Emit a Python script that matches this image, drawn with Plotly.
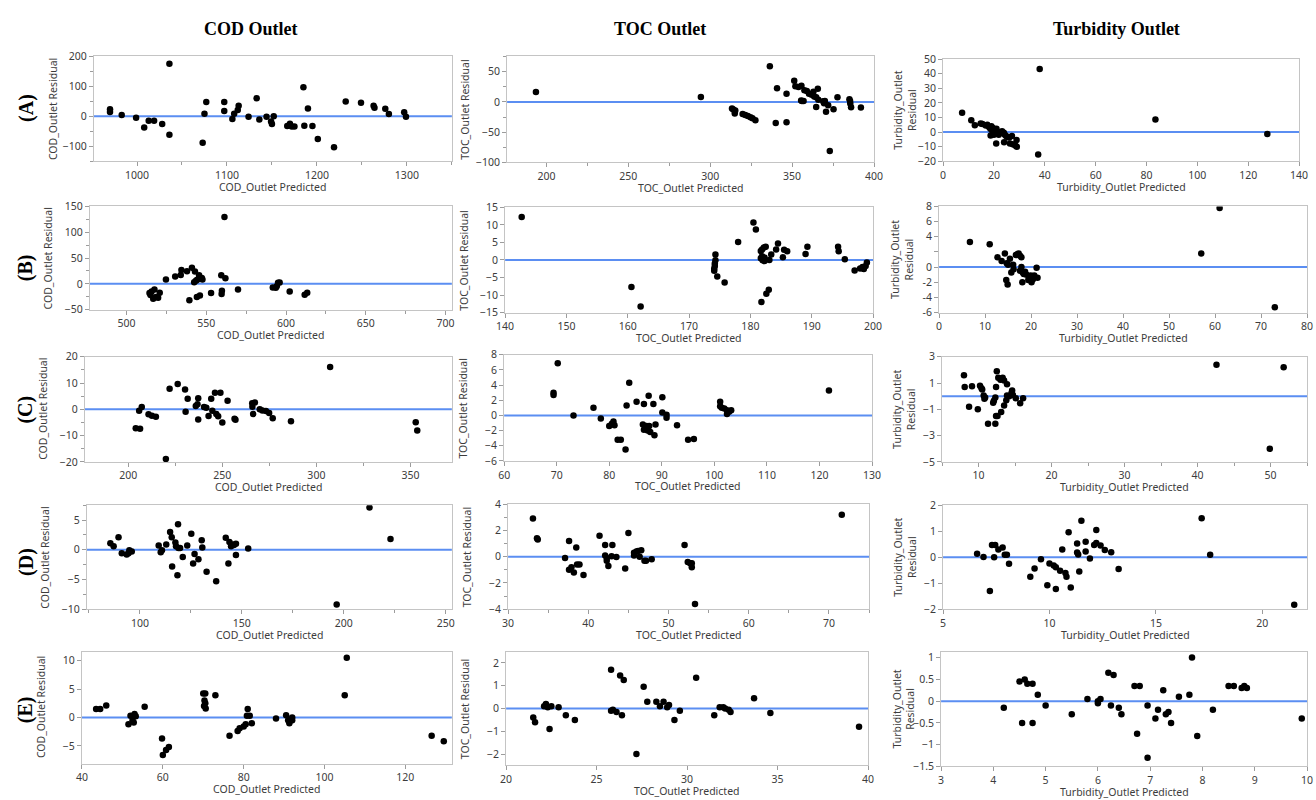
import plotly.graph_objects as go

W, H = 1316, 800

# ---- Run A ----
cod_a_pred = [970, 970, 983, 999, 1008, 1013, 1019, 1028, 1036, 1036, 1073, 1075, 1077, 1097, 1097,
              1106, 1108, 1112, 1113, 1124, 1133, 1136, 1144, 1149, 1150, 1152, 1167, 1170, 1172, 1175,
              1185, 1186, 1190, 1195, 1201, 1219, 1232, 1249, 1263, 1264, 1276, 1280, 1297, 1299]
cod_a_resid = [23, 14, 4, -5, -38, -15, -15, -26, 175, -62, -88, 8, 47, 47, 17, -9, 8, 21, 35, -2,
               60, -11, -2, -18, -26, 0, -33, -25, -34, -34, 96, -32, 26, -33, -76, -103, 49, 45, 35, 28,
               25, 7, 13, -2]
toc_a_pred = [193.6, 294.3, 313.3, 314.1, 315.0, 315.3, 319.8, 321.4, 323.0, 324.6, 325.8, 327.6, 336.4,
              340.0, 340.8, 346.6, 346.6, 351.3, 352.0, 353.9, 355.5, 355.7, 356.0, 357.0, 357.5, 359.0,
              360.3, 361.9, 363.0, 363.5, 364.7, 365.7, 364.7, 366.0, 369.0, 369.5, 370.0, 370.7, 372.0,
              373.0, 375.3, 377.7, 385.0, 385.4, 385.5, 386.0, 392.0]
toc_a_resid = [16.3, 8.2, -10.9, -12.5, -19, -14, -20, -21.7, -23.4, -25.5, -27, -30.4, 59.2, -34.8, 22.8,
               -33.7, 13.6, 35.3, 26, 25, 2.2, 27, 1.6, 1.6, 19.6, 18, 13.6, 12, 16.8, 9.2, 8, 21.7, -8.2,
               3.8, 1, -2, 1.6, -16.3, -5.4, -81.5, -12, 7.6, 4.3, 1.6, -2.7, -8.7, -9.2]
turb_a_pred = [7.5, 11.1, 12.5, 14.8, 15.5, 16.8, 17.4, 18.1, 18.6, 19.0, 19.4, 19.6, 18.7, 20.0, 20.6,
               21.0, 21.4, 21.9, 20.9, 22.6, 23.2, 23.9, 24.3, 24.8, 24.0, 25.3, 26.0, 26.3, 27.1, 27.4,
               28.4, 28.9, 29.0, 37.4, 38.0, 83.5, 127.5]
turb_a_resid = [13.3, 8.1, 4.7, 5.9, 5.6, 4.5, 5.0, 3.4, 2.3, 4.0, 0.9, 2.7, -2.3, -1.8, -0.5, 2.3, 0.0,
                -1.8, -7.9, -0.5, 0.5, -0.5, -1.8, -2.7, -7.0, -3.4, -3.8, -7.9, -2.7, -8.3, -9.2, -5.4,
                -10.1, -15.3, 43.2, 8.6, -1.4]

# ---- Run B ----
cod_b_pred = [514.4, 515.0, 515.7, 516.7, 517.5, 518.5, 519.8, 520.8, 524.7, 530.5, 534.0, 534.4, 537.9,
              539.4, 541.0, 542.4, 542.9, 543.5, 544.3, 544.1, 545.5, 545.7, 546.0, 546.8, 547.6, 547.2,
              553.0, 559.8, 559.6, 559.4, 561.4, 562.0, 569.9, 591.7, 593.6, 594.2, 595.0, 596.0, 602.3,
              611.7, 613.3]
cod_b_resid = [-18, -21.8, -14.7, -28.8, -10.9, -25.6, -26.9, -17.3, 8.3, 14.1, 17.3, 26.9, 24.4, -32,
               31.4, 3.2, 23.7, 5.8, 7.7, -25.6, 16.7, 12.2, -22.4, 9.6, 8.3, 11.5, -18, -13.5, -19.9,
               16.7, 129.5, 10.9, -10.9, -7, -7.7, -4.5, 1.9, 2.6, -14.7, -21.2, -17.3]
toc_b_pred = [142.7, 160.6, 162.1, 174.3, 174.3, 174.2, 174.2, 174.1, 174.1, 174.6, 175.8, 178.0, 180.5,
              180.9, 181.7, 181.8, 181.7, 181.9, 181.9, 182.0, 182.2, 182.3, 182.3, 182.5, 182.6, 183.0,
              183.1, 183.4, 184.2, 184.5, 185.3, 185.5, 186.0, 189.0, 189.3, 194.3, 194.4, 195.4, 197.0,
              197.9, 198.3, 198.5, 198.8, 199.0]
toc_b_resid = [12.3, -7.7, -13.3, 1.6, -0.1, -1.0, -1.7, -2.5, -3.1, -4.7, -6.4, 5.1, 10.7, 8.7, 2.6,
               -12.0, 0.5, 3.0, 1.1, -0.1, 3.6, 0.7, -0.3, 3.8, -9.6, -8.5, 0.0, 1.6, 3.0, 4.7, 0.8, 2.9,
               2.5, 1.7, 3.8, 3.8, 2.5, 0.2, -3.0, -2.4, -2.0, -2.6, -1.7, -0.7]
turb_b_pred = [6.7, 11.0, 12.7, 13.6, 14.3, 14.6, 14.9, 14.7, 15.0, 15.4, 15.7, 16.1, 16.2, 16.7, 17.0,
               17.3, 17.6, 17.9, 17.6, 17.9, 18.2, 18.1, 18.4, 18.7, 19.0, 19.4, 19.9, 20.1, 20.4, 20.7,
               21.2, 21.4, 57.0, 61.0, 73.0]
turb_b_resid = [3.3, 3.0, 1.3, 0.8, 1.8, -1.7, -2.3, 0.5, 0.3, 1.1, -0.7, 0.3, -0.3, 1.6, 1.7, 1.8, 1.5,
                1.3, -0.5, 0.0, -0.7, -2.0, -0.9, -0.6, -1.0, -1.7, -1.1, -2.0, -1.6, -1.1, -0.1, -1.4,
                1.8, 7.8, -5.3]

# ---- Run C ----
cod_c_pred = [204.0, 206.3, 205.8, 207.2, 210.8, 212.6, 214.7, 220.0, 222.0, 226.3, 230.2, 230.5, 231.6,
              235.9, 236.8, 237.2, 237.2, 240.3, 241.5, 242.7, 244.1, 244.7, 246.1, 246.8, 247.8, 249.0,
              250.0, 252.8, 256.5, 257.0, 265.9, 266.0, 266.4, 267.3, 269.9, 271.3, 273.2, 274.9, 276.8,
              286.5, 307.3, 352.8, 353.6]
cod_c_resid = [-7.2, -7.4, -0.5, 0.9, -1.9, -2.4, -2.8, -18.9, 7.8, 9.6, 7.5, -0.9, 4.0, 1.3, 1.9, 4.2,
               -3.9, 0.9, 0.6, -2.5, 4.0, -0.5, 6.3, -1.8, -2.6, 6.3, -5.0, 3.3, -3.6, -4.0, 2.3, 1.0,
               -1.8, 2.6, 0.0, -0.4, -0.6, -1.4, -3.4, -4.5, 16.1, -4.9, -8.1]
toc_c_pred = [69.4, 69.4, 70.2, 73.2, 77.0, 78.4, 80.0, 80.5, 80.8, 81.0, 81.6, 82.2, 83.1, 83.3, 83.8,
              85.2, 86.6, 86.4, 86.6, 87.1, 87.3, 87.5, 87.6, 87.8, 88.4, 88.6, 88.8, 90.1, 90.1, 90.9,
              90.9, 92.9, 95.0, 96.1, 101.1, 101.1, 101.4, 101.9, 102.4, 102.4, 102.8, 103.2, 121.8]
toc_c_resid = [3.0, 2.7, 6.9, 0.0, 1.0, -0.4, -1.4, -1.1, -0.8, -1.3, -3.2, -3.2, -4.5, 1.3, 4.3, 1.8,
               1.5, -1.2, -1.9, -1.4, -2.0, 2.6, -1.4, -2.2, 1.5, -2.6, -1.2, 2.4, 0.4, 0.1, -0.3, -1.3,
               -3.2, -3.1, 1.8, 1.2, 1.0, 0.9, 0.7, 0.2, 0.5, 0.7, 3.3]
turb_c_pred = [8.0, 8.1, 8.7, 9.1, 9.9, 10.2, 10.4, 10.5, 10.7, 10.8, 10.9, 11.3, 12.0, 12.1, 12.3, 12.4,
               12.3, 12.4, 12.5, 12.6, 12.7, 13.0, 13.1, 13.3, 13.5, 13.5, 13.8, 13.9, 13.9, 14.2, 14.5,
               14.6, 14.7, 15.1, 15.7, 16.1, 42.6, 49.9, 51.8]
turb_c_resid = [1.6, 0.7, -0.8, 0.75, -1.0, 0.8, 0.6, 0.5, 0.06, -0.2, -0.1, -2.1, -0.5, -0.35, -0.1,
                0.7, -2.1, -1.5, 1.9, -1.5, 1.4, 1.25, -1.2, 1.4, 1.2, -0.7, -0.3, 0.9, 0.05, 0.0, 0.23,
                0.43, 0.1, -0.15, -0.53, -0.15, 2.4, -4.0, 2.2]

# ---- Run D ----
cod_d_pred = [85.5, 87.1, 89.5, 91.1, 93.5, 94.4, 94.8, 96.0, 109.2, 110.2, 110.8, 112.9, 114.8, 115.6,
              115.8, 117.4, 117.7, 118.4, 118.7, 118.9, 119.7, 121.0, 123.2, 125.2, 126.1, 126.8, 128.7,
              130.3, 130.6, 132.7, 137.4, 142.1, 143.4, 143.9, 144.7, 145.3, 146.1, 147.1, 147.1, 153.1,
              196.5, 212.6, 222.9]
cod_d_resid = [1.1, 0.6, 2.1, -0.6, -0.8, -0.6, -0.1, -0.3, 0.7, -0.4, -0.1, 0.9, 3.0, 2.1, -2.8, 1.2,
               0.6, -4.3, 4.3, 0.3, 0.3, -1.2, 0.7, 2.7, -2.3, -0.7, -1.6, 1.6, 0.4, -3.7, -5.3, 2.0,
               -2.3, 1.3, 0.6, 0.9, 0.8, 1.0, -0.9, 0.2, -9.2, 7.1, 1.8]
toc_d_pred = [33.1, 33.6, 33.7, 37.1, 37.6, 37.6, 37.9, 38.2, 38.5, 38.6, 38.9, 39.4, 41.4, 42.1, 42.1,
              42.3, 42.3, 42.5, 42.9, 43.0, 43.5, 44.6, 45.0, 45.7, 45.7, 46.0, 46.2, 46.4, 46.6, 47.0,
              47.2, 47.9, 52.0, 52.4, 52.7, 52.9, 52.9, 53.3, 71.6]
toc_d_resid = [2.9, 1.4, 1.3, -0.1, 1.2, -1.0, -0.8, -1.2, 0.7, -0.6, -0.6, -1.4, 1.6, 0.9, 0.1, -0.1,
               -0.3, -0.7, 0.03, 0.9, -0.03, -0.9, 1.8, 0.1, 0.3, 0.4, 0.43, 0.0, 0.5, -0.3, -0.3, -0.2,
               0.9, -0.4, -0.5, -0.5, -0.8, -3.6, 3.2]
turb_d_pred = [6.6, 6.9, 7.2, 7.3, 7.4, 7.45, 7.6, 7.8, 7.9, 8.0, 8.1, 9.1, 9.3, 9.6, 9.9, 10.0, 10.2,
               10.3, 10.3, 10.5, 10.6, 10.75, 10.8, 10.9, 11.0, 11.3, 11.3, 11.35, 11.4, 11.5, 11.7, 11.7,
               11.9, 12.1, 12.2, 12.2, 12.4, 12.6, 12.9, 13.25, 17.15, 17.55, 21.5]
turb_d_resid = [0.13, 0.01, -1.3, 0.47, 0.0, 0.47, 0.3, 0.37, 0.09, 0.09, -0.25, -0.75, -0.43, -0.08,
                -1.08, -0.24, -0.32, -0.39, -1.22, -0.52, 0.3, -0.61, -0.75, 0.96, -1.16, 0.18, 0.53, 0.1,
                -0.55, 1.4, 0.59, 0.22, -0.05, 0.47, 1.04, 0.55, 0.45, 0.28, 0.19, -0.45, 1.5, 0.09, -1.83]

# ---- Run E ----
cod_e_pred = [43.5, 44.5, 46.0, 51.5, 52.0, 52.5, 53.0, 53.3, 52.8, 55.5, 59.8, 60.0, 60.8, 61.5, 70.0,
              70.5, 70.3, 70.5, 70.2, 70.6, 73.0, 76.5, 78.5, 79.0, 80.0, 80.5, 80.8, 81.0, 81.5, 82.0,
              88.0, 90.5, 91.0, 91.3, 92.0, 92.0, 105.5, 105.0, 126.5, 129.5]
cod_e_resid = [1.5, 1.5, 2.1, -1.2, 0.3, -0.5, 0.6, 0.2, -0.9, 1.9, -3.7, -6.6, -5.7, -5.2, 4.2, 4.2,
               3.0, 2.5, 2.0, 1.6, 3.9, -3.2, -2.4, -1.9, -1.6, -1.2, 0.3, 1.5, 0.3, -1.0, -0.2, 0.4,
               -0.5, -1.0, 0.0, -0.5, 10.5, 3.9, -3.2, -4.2]
toc_e_pred = [21.5, 21.6, 22.1, 22.2, 22.3, 22.4, 22.5, 22.9, 23.3, 23.8, 25.8, 25.8, 25.9, 26.1, 26.3,
              26.4, 26.5, 27.2, 27.6, 27.8, 28.3, 28.5, 28.7, 28.9, 29.0, 29.3, 29.6, 30.5, 31.5, 31.8,
              32.0, 32.1, 32.3, 32.4, 33.7, 34.6, 39.5]
toc_e_resid = [-0.4, -0.6, 0.1, 0.2, 0.05, -0.9, 0.1, 0.05, -0.3, -0.5, 1.7, -0.1, -0.05, -0.15, 1.45,
               -0.3, 1.25, -2.0, 0.95, 0.3, 0.3, 0.1, 0.3, 0.05, 0.15, -0.5, -0.1, 1.35, -0.3, 0.05, 0.05,
               0.0, -0.05, -0.15, 0.45, -0.2, -0.8]
turb_e_pred = [4.2, 4.5, 4.55, 4.6, 4.65, 4.75, 4.75, 4.85, 5.0, 5.5, 5.8, 6.0, 6.0, 6.05, 6.2, 6.25, 6.3,
               6.4, 6.45, 6.7, 6.75, 6.8, 6.95, 6.95, 7.1, 7.15, 7.25, 7.3, 7.35, 7.4, 7.55, 7.75, 7.8,
               7.9, 8.2, 8.5, 8.6, 8.75, 8.8, 8.85, 9.9]
turb_e_resid = [-0.15, 0.45, -0.5, 0.5, 0.4, -0.5, 0.4, 0.15, -0.1, -0.3, 0.05, 0.0, -0.05, 0.05, 0.65,
                -0.1, 0.6, -0.15, -0.3, 0.35, -0.75, 0.35, -0.1, -1.3, -0.4, -0.2, 0.25, -0.3, -0.25,
                -0.5, 0.1, 0.15, 1.0, -0.8, -0.2, 0.35, 0.35, 0.3, 0.35, 0.3, -0.4]

column_titles = ["COD Outlet", "TOC Outlet", "Turbidity Outlet"]
row_labels = ["(A)", "(B)", "(C)", "(D)", "(E)"]
x_titles = ["COD_Outlet Predicted", "TOC_Outlet Predicted", "Turbidity_Outlet Predicted"]
y_titles = ["COD_Outlet Residual", "TOC_Outlet Residual", "Turbidity_Outlet<br>Residual"]
turb_b_ticks = [-6, -4, -2, 0, 2, 4, 6, 8]
turb_b_ticktext = ["-6", "-4", "-2", "0", "", "4", "6", "8"]

# panel layout: (left, right, top, bottom) in pixels, axis ranges and tick spacing
panels = [
    dict(x=cod_a_pred, y=cod_a_resid, col=0, box=(86, 449, 50, 157), xr=[952, 1350], yr=[-150, 200],
         xd=100, xm=50, yd=100, ym=50),
    dict(x=toc_a_pred, y=toc_a_resid, col=1, box=(505, 877, 50, 158), xr=[176, 400], yr=[-100, 76],
         xd=50, xm=25, yd=50, ym=25),
    dict(x=turb_a_pred, y=turb_a_resid, col=2, box=(947, 1308, 53, 157), xr=[0, 140], yr=[-20, 50],
         xd=20, xm=None, yd=10, ym=None),
    dict(x=cod_b_pred, y=cod_b_resid, col=0, box=(82, 449, 203, 308), xr=[477, 704], yr=[-50, 150],
         xd=50, xm=25, yd=50, ym=25),
    dict(x=toc_b_pred, y=toc_b_resid, col=1, box=(503, 876, 204, 311), xr=[140, 200], yr=[-15, 15],
         xd=10, xm=None, yd=5, ym=None),
    dict(x=turb_b_pred, y=turb_b_resid, col=2, box=(943, 1316, 203, 311), xr=[0, 80], yr=[-6, 8],
         xd=10, xm=None, yd=None, ym=None, yvals=turb_b_ticks, ytext=turb_b_ticktext),
    dict(x=cod_c_pred, y=cod_c_resid, col=0, box=(77, 449, 356, 463), xr=[177, 372], yr=[-20, 20],
         xd=50, xm=25, yd=10, ym=5),
    dict(x=toc_c_pred, y=toc_c_resid, col=1, box=(502, 875, 354, 462), xr=[60, 130], yr=[-6, 8],
         xd=10, xm=None, yd=2, ym=None),
    dict(x=turb_c_pred, y=turb_c_resid, col=2, box=(946, 1316, 356, 463), xr=[5, 55], yr=[-5, 3],
         xd=10, xm=5, yd=2, ym=None, y0=1),
    dict(x=cod_d_pred, y=cod_d_resid, col=0, box=(79, 449, 507, 613), xr=[74, 253], yr=[-10, 7.5],
         xd=50, xm=25, yd=5, ym=2.5),
    dict(x=toc_d_pred, y=toc_d_resid, col=1, box=(506, 872, 506, 613), xr=[30, 75], yr=[-4, 4],
         xd=10, xm=5, yd=2, ym=1),
    dict(x=turb_d_pred, y=turb_d_resid, col=2, box=(947, 1316, 507, 613), xr=[5, 22.1], yr=[-2, 2],
         xd=5, xm=None, yd=1, ym=None),
    dict(x=cod_e_pred, y=cod_e_resid, col=0, box=(74, 449, 656, 770), xr=[40, 131.5], yr=[-8.1, 11.6],
         xd=20, xm=None, yd=5, ym=None),
    dict(x=toc_e_pred, y=toc_e_resid, col=1, box=(504, 871, 656, 772), xr=[20, 40], yr=[-2.5, 2.5],
         xd=5, xm=None, yd=1, ym=None),
    dict(x=turb_e_pred, y=turb_e_resid, col=2, box=(945, 1316, 656, 773), xr=[3, 10], yr=[-1.5, 1.14],
         xd=1, xm=None, yd=0.5, ym=None),
]

FONT = "Noto Sans"
SERIF = "Liberation Serif"
TICK_FONT = dict(family=FONT, size=10.5, color="#3c3c3c")
LINE_GRAY = "#c4c4c4"
TICK_GRAY = "#9c9c9c"
ZERO_BLUE = "#5b8ef2"


def px_x(v):
    return v / W


def px_y(v):
    return 1 - v / H


fig = go.Figure()
annotations = []
shapes = []

for i, p in enumerate(panels, start=1):
    sfx = "" if i == 1 else str(i)
    xa, ya = "x" + sfx, "y" + sfx
    left, right, top, bottom = p["box"]

    fig.add_trace(go.Scatter(
        x=p["x"], y=p["y"], mode="markers",
        marker=dict(color="black", size=6.5, line=dict(width=0)),
        xaxis=xa, yaxis=ya, showlegend=False, hoverinfo="x+y",
    ))

    common = dict(showline=True, linecolor=LINE_GRAY, linewidth=1, mirror=True,
                  ticks="outside", ticklen=4, tickcolor=TICK_GRAY, tickwidth=1,
                  showgrid=False, zeroline=False, tickfont=TICK_FONT, fixedrange=True)

    xaxis = dict(domain=[px_x(left), px_x(right)], range=p["xr"], anchor=ya,
                 tickmode="linear", tick0=0, dtick=p["xd"], **common)
    if p["xm"]:
        xaxis["minor"] = dict(dtick=p["xm"], tick0=0, ticks="outside", ticklen=3,
                              tickcolor=TICK_GRAY, showgrid=False)
    yaxis = dict(domain=[px_y(bottom), px_y(top)], range=p["yr"], anchor=xa, **common)
    if p.get("yvals"):
        yaxis.update(tickmode="array", tickvals=p["yvals"], ticktext=p["ytext"])
    else:
        yaxis.update(tickmode="linear", tick0=p.get("y0", 0), dtick=p["yd"])
    if p["ym"]:
        yaxis["minor"] = dict(dtick=p["ym"], tick0=0, ticks="outside", ticklen=3,
                              tickcolor=TICK_GRAY, showgrid=False)

    fig.layout["xaxis" + sfx] = xaxis
    fig.layout["yaxis" + sfx] = yaxis

    # reference line at zero residual
    shapes.append(dict(type="line", xref=xa + " domain", x0=0, x1=1, yref=ya, y0=0, y1=0,
                       line=dict(color=ZERO_BLUE, width=2), layer="below"))

    # axis titles
    annotations.append(dict(text=x_titles[p["col"]], xref="paper", yref="paper",
                            x=px_x((left + right) / 2), y=px_y(bottom + 26),
                            xanchor="center", yanchor="middle", showarrow=False,
                            font=dict(family=FONT, size=10.5, color="#3c3c3c")))
    ytitle_off = 38 if p["col"] == 2 else 42
    annotations.append(dict(text=y_titles[p["col"]], xref="paper", yref="paper",
                            x=px_x(left - ytitle_off), y=px_y((top + bottom) / 2),
                            xanchor="center", yanchor="middle", showarrow=False, textangle=-90,
                            font=dict(family=FONT, size=10.5, color="#3c3c3c")))

# column headings
for text, cx in zip(column_titles, [245, 660, 1123]):
    annotations.append(dict(text="<b>" + text + "</b>", xref="paper", yref="paper",
                            x=px_x(cx), y=px_y(22), xanchor="center", yanchor="middle",
                            showarrow=False, font=dict(family=SERIF, size=18, color="black")))

# row labels
for text, cy in zip(row_labels, [103, 265, 410, 565, 715]):
    annotations.append(dict(text="<b>" + text + "</b>", xref="paper", yref="paper",
                            x=px_x(17), y=px_y(cy), xanchor="center", yanchor="middle",
                            showarrow=False, textangle=-90,
                            font=dict(family=SERIF, size=20, color="black")))

fig.update_layout(
    width=W, height=H, margin=dict(l=0, r=0, t=0, b=0),
    paper_bgcolor="white", plot_bgcolor="white",
    annotations=annotations, shapes=shapes, showlegend=False,
)

fig.write_html("out.html")
